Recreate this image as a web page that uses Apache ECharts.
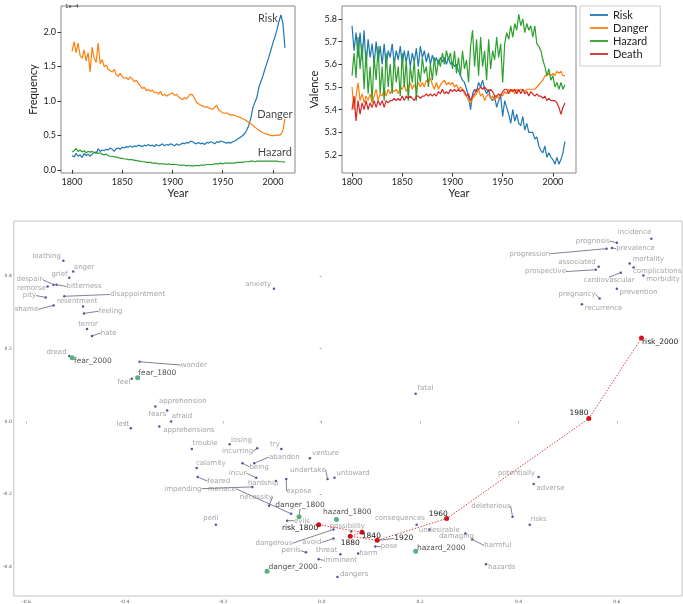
<!DOCTYPE html>
<html><head><meta charset="utf-8">
<script src="https://cdn.jsdelivr.net/npm/echarts@6/dist/echarts.min.js"></script>
<style>html,body{margin:0;padding:0;background:#fff}#c{width:683px;height:604px}</style>
</head><body><div id="c"></div>
<script>
// ---------- DATA ----------
const years = [];
for (let y = 1800; y <= 2012; y += 2) years.push(y);

const freqRisk = [0.21,0.19,0.24,0.20,0.22,0.18,0.24,0.21,0.23,0.20,
 0.23,0.26,0.24,0.31,0.27,0.29,0.28,0.30,0.29,0.32,
 0.30,0.27,0.31,0.32,0.30,0.33,0.32,0.34,0.33,0.35,
 0.33,0.35,0.34,0.36,0.35,0.34,0.36,0.35,0.37,0.35,
 0.36,0.34,0.37,0.35,0.36,0.38,0.35,0.37,0.36,0.38,
 0.37,0.35,0.38,0.36,0.37,0.39,0.38,0.40,0.39,0.42,
 0.41,0.39,0.38,0.40,0.38,0.39,0.37,0.40,0.39,0.41,
 0.40,0.38,0.41,0.40,0.42,0.41,0.40,0.39,0.40,0.39,
 0.41,0.42,0.44,0.46,0.48,0.50,0.53,0.58,0.65,0.75,
 0.90,0.98,1.05,1.20,1.28,1.36,1.46,1.55,1.64,1.74,
 1.84,1.93,2.03,2.15,2.25,2.12,1.77];
const freqDanger = [1.72,1.86,1.70,1.84,1.66,1.62,1.74,1.58,1.70,1.42,
 1.78,1.62,1.56,1.84,1.54,1.60,1.50,1.52,1.46,1.44,
 1.42,1.46,1.38,1.36,1.40,1.35,1.33,1.34,1.31,1.35,
 1.32,1.28,1.30,1.26,1.22,1.18,1.20,1.15,1.17,1.14,
 1.16,1.12,1.13,1.10,1.14,1.08,1.10,1.07,1.09,1.10,
 1.12,1.08,1.10,1.06,1.04,1.02,1.05,1.03,1.07,1.10,
 1.09,1.04,0.98,0.96,0.94,0.93,0.91,0.92,0.90,0.89,
 0.88,0.91,0.94,0.87,0.85,0.83,0.82,0.83,0.81,0.80,
 0.80,0.79,0.78,0.77,0.76,0.74,0.73,0.71,0.69,0.67,
 0.65,0.62,0.60,0.58,0.56,0.54,0.53,0.52,0.51,0.50,
 0.50,0.50,0.51,0.50,0.52,0.57,0.74];
const freqHazard = [0.26,0.28,0.31,0.27,0.29,0.26,0.28,0.25,0.27,0.26,
 0.27,0.25,0.26,0.24,0.25,0.23,0.22,0.23,0.21,0.20,
 0.20,0.19,0.19,0.18,0.17,0.17,0.16,0.16,0.15,0.15,
 0.15,0.14,0.14,0.13,0.13,0.12,0.12,0.11,0.11,0.11,
 0.10,0.10,0.10,0.09,0.09,0.09,0.09,0.08,0.09,0.08,
 0.08,0.08,0.08,0.07,0.07,0.07,0.07,0.06,0.07,0.06,
 0.06,0.06,0.07,0.06,0.07,0.07,0.07,0.08,0.08,0.08,
 0.08,0.09,0.09,0.09,0.10,0.09,0.10,0.10,0.10,0.10,
 0.10,0.10,0.11,0.11,0.11,0.11,0.12,0.12,0.12,0.13,
 0.13,0.12,0.13,0.13,0.13,0.13,0.13,0.13,0.13,0.13,
 0.13,0.13,0.13,0.12,0.12,0.12,0.11];

const valRisk = [5.77,5.66,5.74,5.63,5.74,5.62,5.75,5.59,5.71,5.63,
 5.69,5.60,5.70,5.61,5.68,5.60,5.69,5.59,5.66,5.63,
 5.69,5.60,5.66,5.62,5.68,5.60,5.66,5.61,5.66,5.59,
 5.65,5.61,5.67,5.59,5.68,5.63,5.66,5.61,5.65,5.60,
 5.64,5.61,5.63,5.60,5.63,5.61,5.63,5.60,5.63,5.60,
 5.61,5.59,5.60,5.57,5.55,5.53,5.52,5.49,5.46,5.40,
 5.47,5.49,5.48,5.52,5.50,5.53,5.49,5.47,5.49,5.45,
 5.44,5.46,5.41,5.44,5.46,5.37,5.44,5.41,5.38,5.34,
 5.40,5.35,5.38,5.34,5.33,5.37,5.31,5.34,5.30,5.30,
 5.30,5.27,5.28,5.24,5.22,5.21,5.24,5.19,5.21,5.19,
 5.18,5.16,5.19,5.16,5.18,5.21,5.26];
const valDanger = [5.50,5.40,5.46,5.52,5.44,5.47,5.43,5.46,5.44,5.47,
 5.43,5.46,5.49,5.44,5.47,5.46,5.49,5.46,5.49,5.47,
 5.49,5.48,5.49,5.47,5.50,5.49,5.51,5.48,5.50,5.52,
 5.49,5.51,5.49,5.52,5.50,5.52,5.50,5.53,5.52,5.54,
 5.51,5.49,5.52,5.49,5.51,5.52,5.53,5.51,5.52,5.51,
 5.52,5.50,5.51,5.49,5.50,5.49,5.47,5.46,5.44,5.43,
 5.45,5.46,5.47,5.49,5.46,5.47,5.44,5.46,5.47,5.45,
 5.46,5.44,5.46,5.45,5.47,5.46,5.48,5.47,5.49,5.48,
 5.49,5.47,5.49,5.48,5.49,5.49,5.48,5.49,5.49,5.49,
 5.49,5.49,5.50,5.51,5.52,5.53,5.55,5.55,5.56,5.55,
 5.56,5.55,5.57,5.56,5.57,5.55,5.55];
const valHazard = [5.55,5.65,5.54,5.72,5.58,5.69,5.49,5.66,5.47,5.59,
 5.44,5.63,5.53,5.68,5.47,5.59,5.44,5.65,5.50,5.60,
 5.47,5.63,5.52,5.59,5.46,5.65,5.50,5.62,5.44,5.59,
 5.52,5.62,5.44,5.58,5.52,5.63,5.56,5.59,5.50,5.60,
 5.53,5.63,5.55,5.62,5.59,5.65,5.60,5.66,5.62,5.65,
 5.58,5.66,5.56,5.63,5.55,5.66,5.58,5.62,5.52,5.68,
 5.75,5.59,5.71,5.55,5.72,5.59,5.66,5.53,5.71,5.58,
 5.66,5.62,5.72,5.63,5.69,5.52,5.69,5.74,5.71,5.77,
 5.72,5.78,5.75,5.82,5.77,5.80,5.74,5.78,5.75,5.77,
 5.72,5.77,5.69,5.68,5.66,5.62,5.59,5.55,5.58,5.53,
 5.55,5.50,5.52,5.49,5.52,5.49,5.51];
const valDeath = [5.40,5.46,5.35,5.44,5.38,5.43,5.40,5.44,5.40,5.43,
 5.41,5.44,5.41,5.44,5.42,5.44,5.41,5.44,5.43,5.44,
 5.44,5.45,5.44,5.45,5.44,5.46,5.44,5.46,5.45,5.46,
 5.45,5.44,5.46,5.46,5.45,5.46,5.46,5.47,5.46,5.47,
 5.46,5.47,5.46,5.48,5.47,5.49,5.47,5.48,5.47,5.49,
 5.48,5.49,5.48,5.49,5.48,5.49,5.48,5.46,5.47,5.44,
 5.46,5.47,5.49,5.49,5.50,5.49,5.50,5.49,5.48,5.49,
 5.48,5.46,5.46,5.47,5.46,5.48,5.49,5.49,5.47,5.49,
 5.48,5.49,5.47,5.49,5.47,5.49,5.47,5.48,5.46,5.48,
 5.47,5.46,5.47,5.46,5.46,5.45,5.46,5.44,5.45,5.44,
 5.44,5.44,5.43,5.41,5.38,5.41,5.43];

const yearTicks = [1800, 1850, 1900, 1950, 2000];
const freqTicks = [0, 0.5, 1.0, 1.5, 2.0];
const valTicks = [5.2, 5.3, 5.4, 5.5, 5.6, 5.7, 5.8];
const embXTicks = [-0.6, -0.4, -0.2, 0.0, 0.2, 0.4, 0.6];
const embYTicks = [-0.4, -0.2, 0.0, 0.2, 0.4];

// top-left annotations: [text, year, frequency]
const freqNotes = [['Risk', 1995, 2.19], ['Danger', 2002, 0.80], ['Hazard', 2002, 0.26]];

// embedding: [word, x, y, labelX, labelY]
const contextWords = [
['loathing',-0.525,0.442,-0.559,0.455],['anger',-0.505,0.412,-0.483,0.425],
['grief',-0.513,0.395,-0.533,0.406],['despair',-0.545,0.376,-0.594,0.390],
['bitterness',-0.539,0.376,-0.483,0.371],['remorse',-0.557,0.371,-0.590,0.365],
['pity',-0.561,0.341,-0.594,0.346],['disappointment',-0.523,0.344,-0.374,0.349],
['resentment',-0.485,0.316,-0.497,0.330],['shame',-0.545,0.319,-0.600,0.308],
['feeling',-0.483,0.297,-0.429,0.303],['terror',-0.477,0.254,-0.475,0.267],
['hate',-0.467,0.235,-0.433,0.243],['dread',-0.513,0.180,-0.539,0.191],
['wonder',-0.370,0.164,-0.260,0.155],['feel',-0.386,0.117,-0.402,0.109],
['anxiety',-0.097,0.365,-0.129,0.376],['incidence',0.670,0.502,0.636,0.521],
['prognosis',0.600,0.491,0.551,0.496],['progression',0.579,0.475,0.423,0.461],
['prevalence',0.590,0.477,0.638,0.475],['mortality',0.626,0.434,0.664,0.445],
['complications',0.634,0.423,0.682,0.412],['morbidity',0.654,0.401,0.694,0.390],
['associated',0.563,0.425,0.519,0.439],['prospective',0.557,0.417,0.455,0.412],
['cardiovascular',0.608,0.409,0.584,0.387],['prevention',0.600,0.365,0.644,0.355],
['pregnancy',0.565,0.338,0.519,0.349],['recurrence',0.529,0.322,0.573,0.311],
['fatal',0.191,0.076,0.211,0.090],['apprehension',-0.338,0.041,-0.282,0.055],
['fears',-0.314,0.030,-0.334,0.019],['afraid',-0.306,0.000,-0.284,0.014],
['lest',-0.388,-0.019,-0.404,-0.008],['apprehensions',-0.330,-0.014,-0.270,-0.025],
['trouble',-0.264,-0.076,-0.237,-0.060],['losing',-0.187,-0.063,-0.163,-0.052],
['try',-0.082,-0.076,-0.095,-0.063],['incurring',-0.131,-0.074,-0.171,-0.082],
['venture',-0.024,-0.101,0.008,-0.087],['abandon',-0.137,-0.115,-0.076,-0.098],
['being',-0.161,-0.115,-0.127,-0.125],['calamity',-0.254,-0.128,-0.225,-0.115],
['undertake',0.012,-0.158,-0.028,-0.134],['untoward',0.026,-0.155,0.064,-0.142],
['incur',-0.133,-0.155,-0.171,-0.142],['feared',-0.252,-0.153,-0.209,-0.164],
['hardship',-0.093,-0.164,-0.119,-0.169],['expose',-0.072,-0.158,-0.046,-0.191],
['impending',-0.141,-0.180,-0.282,-0.185],['menace',-0.062,-0.254,-0.203,-0.185],
['necessity',-0.107,-0.232,-0.133,-0.207],['evils',-0.070,-0.273,-0.040,-0.273],
['peril',-0.215,-0.284,-0.225,-0.265],['dangerous',0.024,-0.297,-0.097,-0.335],
['possibility',0.060,-0.303,0.052,-0.289],['avoid',0.024,-0.322,-0.020,-0.333],
['perils',-0.032,-0.360,-0.062,-0.355],['threat',0.038,-0.365,0.010,-0.355],
['imminent',-0.006,-0.379,0.038,-0.382],['harm',0.074,-0.363,0.095,-0.363],
['pose',0.109,-0.344,0.137,-0.344],['dangers',0.032,-0.428,0.066,-0.420],
['potentially',0.441,-0.153,0.396,-0.142],['adverse',0.431,-0.172,0.465,-0.183],
['deleterious',0.388,-0.262,0.344,-0.232],['risks',0.423,-0.284,0.441,-0.270],
['consequences',0.193,-0.284,0.159,-0.267],['undesirable',0.219,-0.297,0.239,-0.300],
['damaging',0.292,-0.308,0.274,-0.316],['harmful',0.306,-0.325,0.358,-0.341],
['hazards',0.334,-0.393,0.366,-0.401]];
const fearPoints = [['fear_1800',-0.374,0.120,-0.334,0.134],['fear_2000',-0.507,0.175,-0.465,0.166]];
const dangerPoints = [['danger_1800',-0.046,-0.262,-0.044,-0.229],['danger_2000',-0.111,-0.412,-0.058,-0.401]];
const hazardPoints = [['hazard_1800',0.030,-0.270,0.052,-0.248],['hazard_2000',0.191,-0.357,0.243,-0.349]];
const riskPath = [['risk_1800',-0.006,-0.284,-0.044,-0.292],['1840',0.082,-0.305,0.101,-0.314],
 ['1880',0.058,-0.316,0.058,-0.335],['1920',0.113,-0.327,0.167,-0.322],
 ['1960',0.254,-0.267,0.237,-0.256],['1980',0.543,0.008,0.523,0.022],
 ['risk_2000',0.650,0.229,0.688,0.218]];

// ---------- CHART ----------
const C = {risk:'#1f77b4', danger:'#ff7f0e', hazard:'#2ca02c', death:'#d62728'};
const chart = echarts.init(document.getElementById('c'));
let layoutPix = null;
const pair = (arr) => years.map((y, i) => [y, arr[i]]);

function topX(grid) {
  return {type:'value', gridIndex:grid, min: grid===0?1789:1790, max: grid===0?2022:2023,
    axisLine:{show:false}, splitLine:{show:false},
    axisTick:{show:true, length:3.5, customValues:yearTicks, lineStyle:{color:'#333'}},
    axisLabel:{customValues:yearTicks, fontSize:9, fontFamily:'Lato', color:'#222', margin:5,
      formatter: v => String(Math.round(v))},
    name:'Year', nameLocation:'middle', nameGap:14,
    nameTextStyle:{fontSize:11, fontFamily:'Lato', color:'#222', verticalAlign:'top'}};
}
function topY(grid, min, max, ticks, name) {
  return {type:'value', gridIndex:grid, min, max,
    axisLine:{show:false}, splitLine:{show:false},
    axisTick:{show:true, length:3.5, customValues:ticks, lineStyle:{color:'#333'}},
    axisLabel:{customValues:ticks, fontSize:9, fontFamily:'Lato', color:'#222', margin:5,
      formatter: v => v.toFixed(1)},
    name, nameLocation:'middle', nameGap:22, nameRotate:90,
    nameTextStyle:{fontSize:11, fontFamily:'Lato', color:'#222'}};
}
function lineS(name, grid, arr, color) {
  return {type:'line', name, xAxisIndex:grid, yAxisIndex:grid, data:pair(arr),
    showSymbol:false, symbol:'none', lineStyle:{color, width:1.2}, itemStyle:{color},
    silent:true, z:3};
}
function embSeries(key, list, opt) {
  const pix = layoutPix ? layoutPix[key] : null;
  const s = {
    type: opt.type || 'scatter', id:key, xAxisIndex:2, yAxisIndex:2, z:opt.z,
    symbol:'circle', symbolSize:opt.size, itemStyle:{color:opt.color},
    data: list.map((w, i) => ({name:w[0], value:[w[1], w[2]],
      labelLine:{show: pix ? pix[i].line : false}})),
    label:{show:true, formatter:'{b}', fontSize:opt.fs, fontFamily:'DejaVu Sans',
      color:opt.labelColor, position:'right', distance:2},
    labelLine:{show:false, smooth:false, lineStyle:{color:'#4a4a6a', width:0.7}},
    emphasis:{disabled:true}, silent:true, animation:false
  };
  if (pix) s.labelLayout = (p) => ({x:pix[p.dataIndex].x, y:pix[p.dataIndex].y,
    align:'center', verticalAlign:'middle', hideOverlap:false});
  if (opt.type === 'line') {
    s.showSymbol = true;
    s.lineStyle = {color:'#d0141c', width:0.8, type:[1.5, 1.5]};
  }
  return s;
}

function buildOption() {
  return {
    animation:false,
    title:{text:'1e\u22124', left:60, top:-2, textStyle:{fontSize:6, fontWeight:'normal', color:'#333', fontFamily:'Lato'}},
    legend:{left:580, top:6, orient:'vertical', data:['Risk','Danger','Hazard','Death'],
      icon:'rect', itemWidth:18, itemHeight:1.8, itemGap:1, padding:[3,12,6,10],
      borderColor:'#cccccc', borderWidth:1, borderRadius:0,
      textStyle:{fontSize:11, fontFamily:'Lato', color:'#222', lineHeight:12}, selectedMode:false},
    grid:[
      {left:61, top:6, width:234, height:167, show:true, borderColor:'#888', borderWidth:1},
      {left:342, top:6, width:234, height:167, show:true, borderColor:'#888', borderWidth:1},
      {left:7, top:221, width:675, height:378, show:true, borderColor:'#c4c4c4', borderWidth:1}
    ],
    xAxis:[ topX(0), topX(1),
      {type:'value', gridIndex:2, min:-0.6258, max:0.7324, axisLine:{show:false}, splitLine:{show:false},
       axisTick:{show:true, length:2, customValues:embXTicks, lineStyle:{color:'#777', width:0.6}},
       axisLabel:{customValues:embXTicks, fontSize:4.5, color:'#555', margin:3, fontFamily:'DejaVu Sans',
         formatter: v => v.toFixed(1)}}
    ],
    yAxis:[ topY(0, -0.043, 2.377, freqTicks, 'Frequency'),
      topY(1, 5.121, 5.857, valTicks, 'Valence'),
      {type:'value', gridIndex:2, min:-0.480, max:0.551, axisLine:{show:false}, splitLine:{show:false},
       axisTick:{show:true, length:2, customValues:embYTicks, lineStyle:{color:'#777', width:0.6}},
       axisLabel:{customValues:embYTicks, fontSize:4.5, color:'#555', margin:2, fontFamily:'DejaVu Sans',
         formatter: v => v.toFixed(1)}}
    ],
    series:[
      lineS('Risk', 0, freqRisk, C.risk),
      lineS('Danger', 0, freqDanger, C.danger),
      lineS('Hazard', 0, freqHazard, C.hazard),
      {type:'scatter', name:'notes', xAxisIndex:0, yAxisIndex:0, symbolSize:1,
       itemStyle:{color:'rgba(0,0,0,0)'}, silent:true,
       data: freqNotes.map(n => ({name:n[0], value:[n[1], n[2]]})),
       label:{show:true, position:'inside', formatter:'{b}', fontSize:11, fontFamily:'Lato', color:'#111'}},
      lineS('Risk', 1, valRisk, C.risk),
      lineS('Danger', 1, valDanger, C.danger),
      lineS('Hazard', 1, valHazard, C.hazard),
      lineS('Death', 1, valDeath, C.death),
      embSeries('ctx', contextWords, {size:2.5, color:'#2a2a7a', fs:7, labelColor:'#8c8c8c', z:4}),
      embSeries('risk', riskPath, {type:'line', size:5, color:'#d0141c', fs:7.5, labelColor:'#1a1a1a', z:5}),
      embSeries('fear', fearPoints, {size:5, color:'#2e9e5b', fs:7.5, labelColor:'#1a1a1a', z:6}),
      embSeries('danger', dangerPoints, {size:5, color:'#2e9e5b', fs:7.5, labelColor:'#1a1a1a', z:6}),
      embSeries('hazard', hazardPoints, {size:5, color:'#2e9e5b', fs:7.5, labelColor:'#1a1a1a', z:6})
    ]
  };
}

chart.setOption(buildOption());
const groups = {ctx:contextWords, fear:fearPoints, danger:dangerPoints, hazard:hazardPoints, risk:riskPath};
const ctx2 = document.createElement('canvas').getContext('2d');
layoutPix = {};
for (const key in groups) {
  const fs = key === 'ctx' ? 7 : 7.5;
  ctx2.font = fs + 'px "DejaVu Sans"';
  layoutPix[key] = groups[key].map(w => {
    const p = chart.convertToPixel({gridIndex:2}, [w[1], w[2]]);
    const l = chart.convertToPixel({gridIndex:2}, [w[3], w[4]]);
    const tw = ctx2.measureText(w[0]).width, th = fs + 1;
    const dx = Math.max(l[0] - tw / 2 - p[0], 0, p[0] - (l[0] + tw / 2));
    const dy = Math.max(l[1] - th / 2 - p[1], 0, p[1] - (l[1] + th / 2));
    return {x:l[0], y:l[1], line: Math.hypot(dx, dy) > 4};
  });
}
chart.setOption(buildOption(), true);
</script>
</body></html>
